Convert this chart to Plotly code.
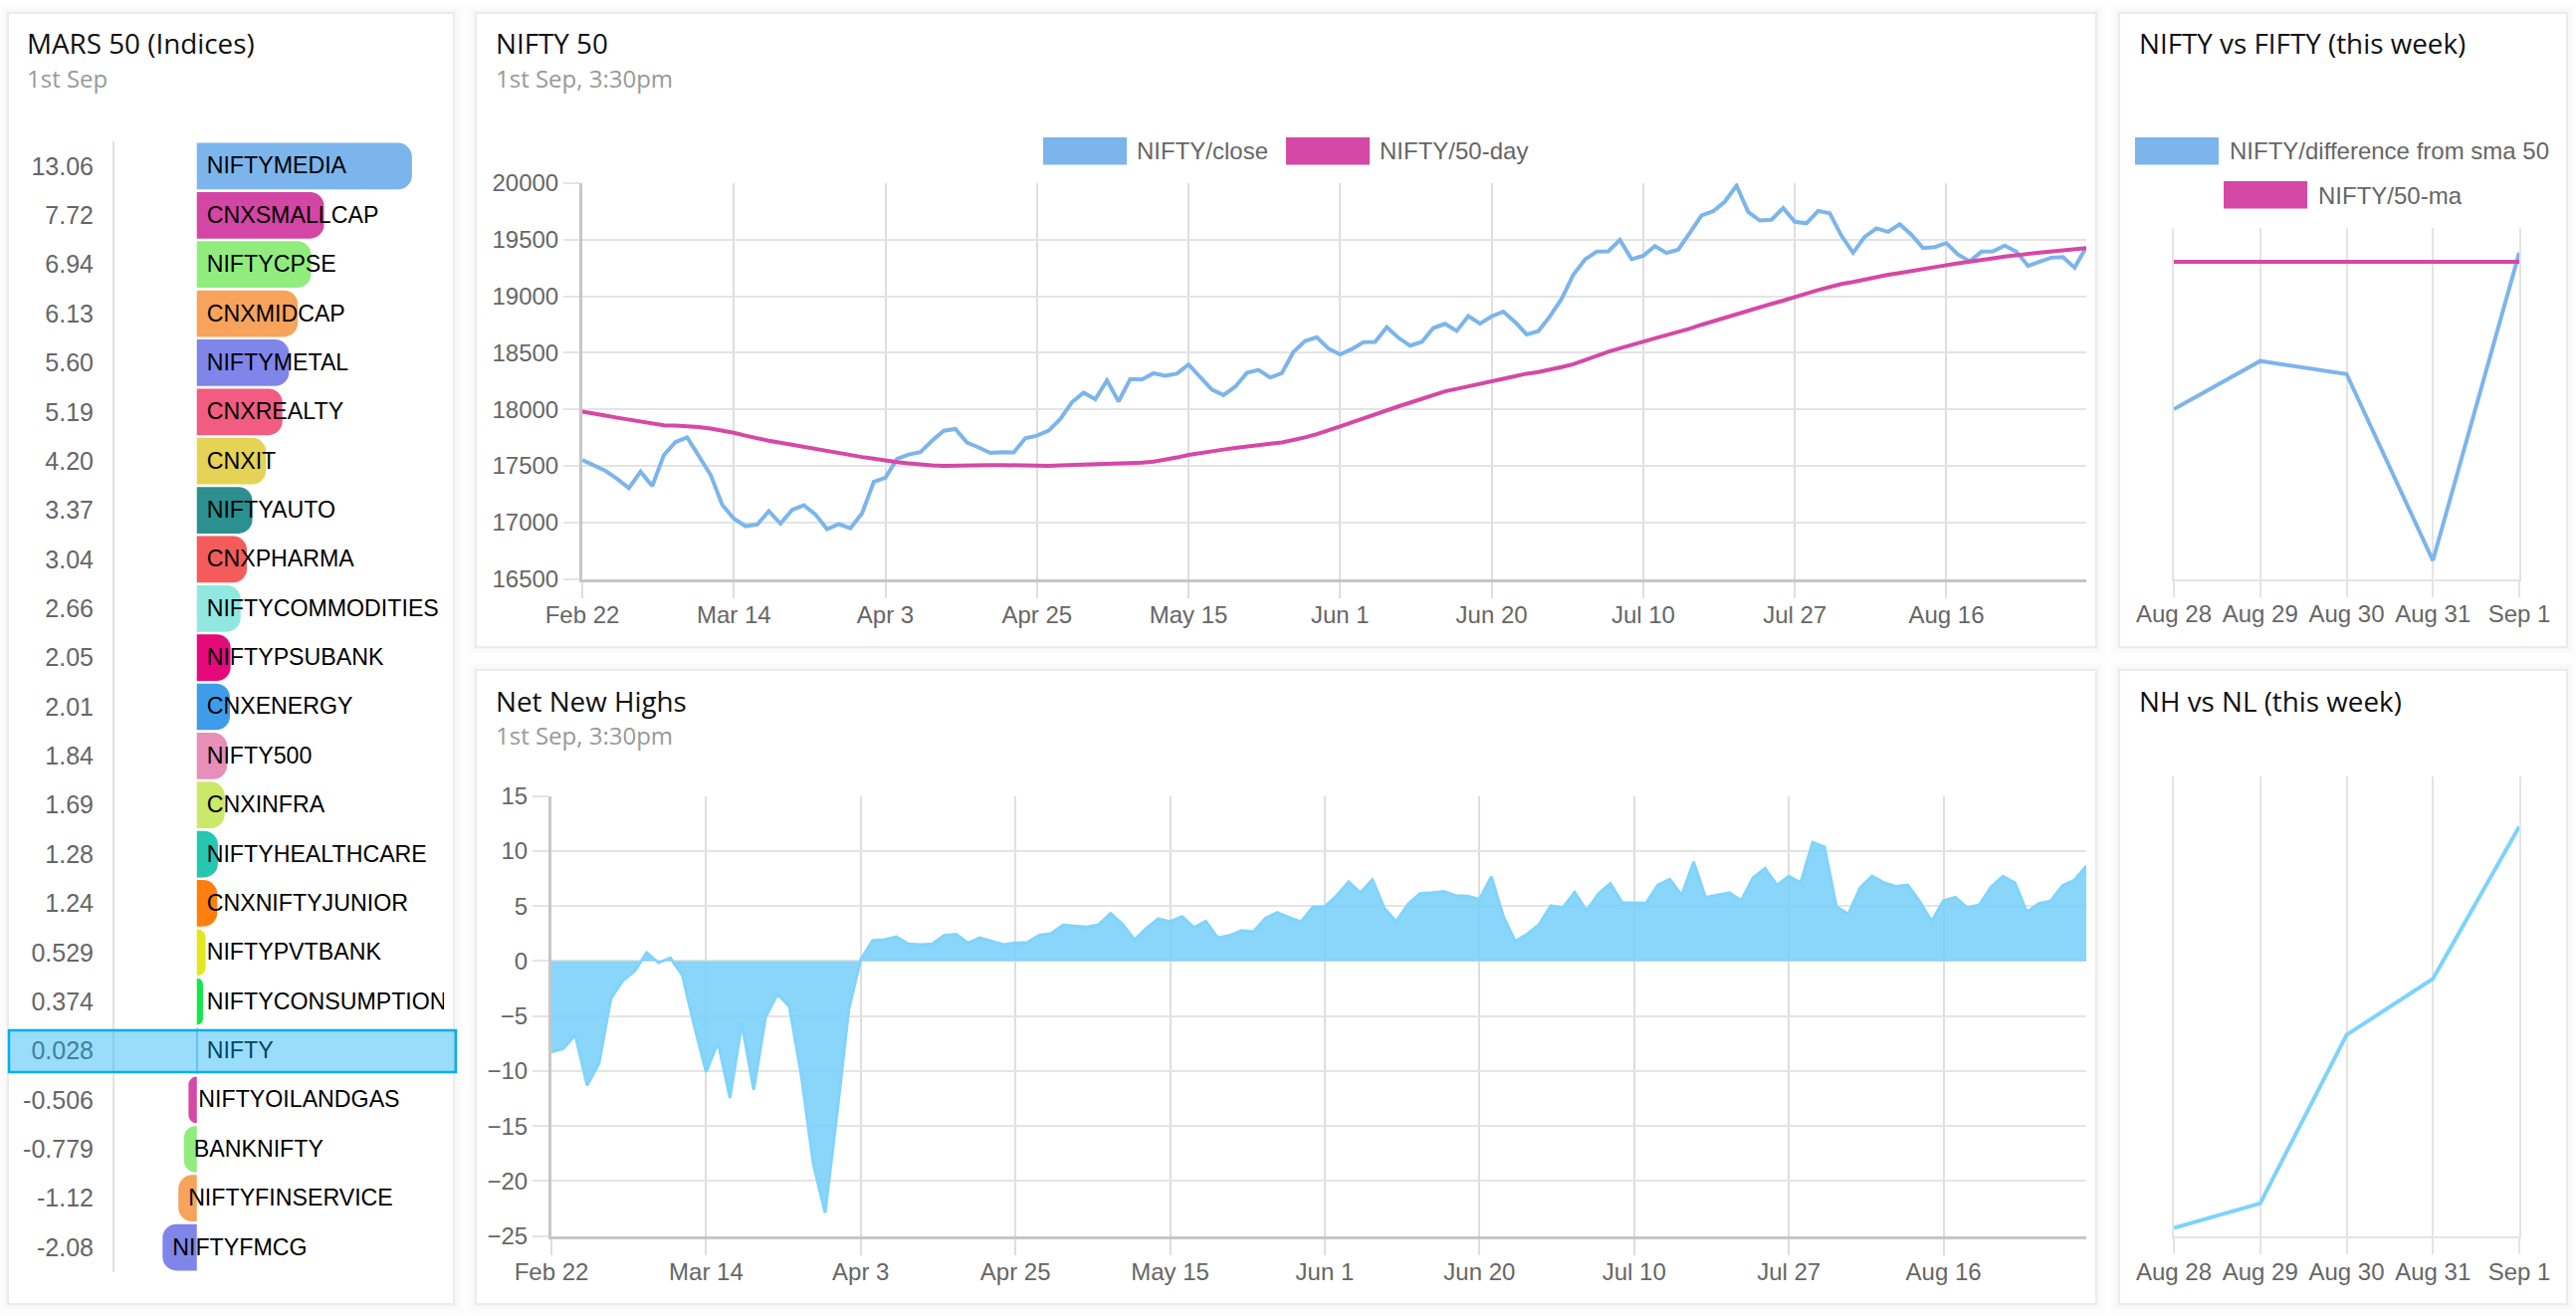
import plotly.graph_objects as go

W, H = 2588, 1322

# ---------- data ----------
index_names = ["NIFTYMEDIA","CNXSMALLCAP","NIFTYCPSE","CNXMIDCAP","NIFTYMETAL","CNXREALTY","CNXIT","NIFTYAUTO",
               "CNXPHARMA","NIFTYCOMMODITIES","NIFTYPSUBANK","CNXENERGY","NIFTY500","CNXINFRA","NIFTYHEALTHCARE",
               "CNXNIFTYJUNIOR","NIFTYPVTBANK","NIFTYCONSUMPTION","NIFTY","NIFTYOILANDGAS","BANKNIFTY",
               "NIFTYFINSERVICE","NIFTYFMCG"]
index_values = [13.06,7.72,6.94,6.13,5.60,5.19,4.20,3.37,3.04,2.66,2.05,2.01,1.84,1.69,1.28,1.24,0.529,0.374,0.028,
                -0.506,-0.779,-1.12,-2.08]
index_labels = ["13.06","7.72","6.94","6.13","5.60","5.19","4.20","3.37","3.04","2.66","2.05","2.01","1.84","1.69",
                "1.28","1.24","0.529","0.374","0.028","-0.506","-0.779","-1.12","-2.08"]
index_colors = ["#7cb5ec","#d346a3","#90ed7d","#f7a35c","#8085e9","#f15c80","#e4d354","#2b908f","#f45b5b","#91e8e1",
                "#e6097a","#3f9ce8","#e78fb8","#cce868","#26c6b0","#ff7f0e","#e4e620","#14e64a","#a8d4f5",
                "#d648a5","#90ed7d","#f7a35c","#8085e9"]

nifty_close = [17552,17507,17456,17385,17304,17448,17322,17596,17711,17752,17589,17422,17156,17033,16967,16981,17100,
               16989,17111,17152,17070,16941,16985,16948,17081,17359,17396,17563,17600,17622,17722,17811,17826,17707,
               17663,17615,17622,17619,17744,17767,17811,17915,18063,18148,18089,18256,18070,18267,18263,18319,18296,
               18315,18396,18281,18174,18126,18200,18322,18348,18281,18319,18507,18604,18637,18537,18485,18533,18593,
               18596,18726,18633,18563,18596,18719,18756,18693,18825,18757,18823,18864,18773,18663,18691,18823,18977,
               19190,19325,19394,19397,19498,19328,19357,19444,19382,19413,19561,19714,19752,19837,19978,19746,19670,
               19677,19780,19658,19645,19755,19733,19535,19385,19526,19601,19570,19636,19545,19426,19435,19470,19369,
               19309,19394,19397,19448,19394,19269,19306,19341,19347,19253,19435]
nifty_ma50 = [17981,17959,17944,17926,17907,17889,17874,17859,17856,17852,17844,17830,17815,17793,17767,17741,17722,
              17704,17685,17670,17652,17633,17615,17596,17578,17563,17544,17533,17522,17511,17504,17500,17504,17507,
              17507,17507,17507,17504,17500,17504,17500,17504,17507,17512,17515,17519,17521,17524,17528,17538,17552,
              17574,17596,17615,17633,17644,17659,17674,17685,17696,17707,17726,17752,17781,17811,17848,17885,17922,
              17959,17993,18026,18059,18093,18126,18159,18181,18204,18227,18249,18274,18296,18315,18330,18349,18374,
              18399,18437,18471,18509,18540,18572,18603,18628,18656,18682,18713,18748,18779,18814,18848,18879,18905,
              18933,18961,18989,19024,19055,19084,19109,19127,19149,19171,19190,19206,19225,19240,19256,19275,19291,
              19303,19319,19335,19350,19366,19375,19385,19394,19407,19416,19426]
net_new_highs = [-8.27,-7.96,-6.74,-11.3,-9.3,-3.39,-1.79,-0.91,0.76,-0.15,0.27,-1.3,-5.87,-10.1,-7.39,-12.46,-5.68,
                 -11.7,-5.1,-3.0,-4.15,-10.4,-18.4,-22.9,-13.9,-4.34,0.15,1.87,1.94,2.2,1.56,1.49,1.56,2.32,2.44,1.64,
                 2.1,1.83,1.49,1.64,1.68,2.36,2.51,3.28,3.2,3.09,3.31,4.34,3.35,1.94,2.97,3.85,3.58,4.04,3.05,3.62,2.1,
                 2.32,2.78,2.67,3.89,4.42,3.96,3.58,4.91,4.95,5.94,7.2,6.21,7.39,4.8,3.58,5.18,6.13,6.21,6.32,5.94,5.9,
                 5.6,7.66,4.08,1.79,2.44,3.31,5.03,4.84,6.25,4.57,6.13,7.05,5.3,5.26,5.26,6.93,7.43,5.98,9.03,5.79,
                 5.98,6.21,5.49,7.58,8.42,6.9,7.7,7.12,10.78,10.36,4.95,4.27,6.67,7.73,7.12,6.78,6.9,5.41,3.62,5.49,
                 5.79,4.84,5.1,6.74,7.7,7.12,4.46,5.22,5.45,6.86,7.35,8.65]
long_tick_labels = ["Feb 22","Mar 14","Apr 3","Apr 25","May 15","Jun 1","Jun 20","Jul 10","Jul 27","Aug 16"]
long_tick_positions = [0,13,26,39,52,65,78,91,104,117]

week_days = ["Aug 28","Aug 29","Aug 30","Aug 31","Sep 1"]
week_diff_sma = [-83.4,-56,-63.4,-169.5,5.7]
week_ma50 = [0.5,0.5,0.5,0.5,0.5]
week_nh_nl = [5.22,5.43,6.87,7.35,8.65]

# ---------- styling ----------
BLUE, PINK, SKY = "#7cb5ec", "#d648a5", "#7dd3fc"
GRID, VGRID, AXIS, TXT = "#e4e4e4", "#dedede", "#c6c6c6", "#666666"
SANS, OPEN = "Liberation Sans", "Open Sans"
FS = 24
LW = 4

def dx(a, b): return [a / W, b / W]
def dy(top, bot): return [1 - bot / H, 1 - top / H]

fig = go.Figure()

# left panel
fig.add_trace(go.Bar(x=index_values, y=index_names, orientation="h", marker=dict(color=index_colors, cornerradius=14, line_width=0),
                     xaxis="x", yaxis="y", showlegend=False))
fig.add_trace(go.Scatter(x=[min(0, v) + 0.6 for v in index_values], y=index_names, mode="text", text=index_names,
                         textposition="middle right", textfont=dict(family=SANS, size=23.2, color="#000"),
                         cliponaxis=True, xaxis="x", yaxis="y6", showlegend=False))
# NIFTY 50
xs = list(range(len(nifty_close)))
fig.add_trace(go.Scatter(x=xs, y=nifty_close, mode="lines", line=dict(color=BLUE, width=LW), xaxis="x2", yaxis="y2", showlegend=False))
fig.add_trace(go.Scatter(x=xs, y=nifty_ma50, mode="lines", line=dict(color=PINK, width=LW), xaxis="x2", yaxis="y2", showlegend=False))
# NIFTY vs FIFTY
fig.add_trace(go.Scatter(x=week_days, y=week_diff_sma, mode="lines", line=dict(color=BLUE, width=LW), xaxis="x3", yaxis="y3", showlegend=False))
fig.add_trace(go.Scatter(x=week_days, y=week_ma50, mode="lines", line=dict(color=PINK, width=LW), xaxis="x3", yaxis="y3", showlegend=False))
# Net new highs
fig.add_trace(go.Scatter(x=xs, y=net_new_highs, mode="lines", fill="tozeroy", fillcolor="rgba(118,206,249,0.85)",
                         line=dict(color="#80d4fb", width=3), xaxis="x4", yaxis="y4", showlegend=False))
# NH vs NL
fig.add_trace(go.Scatter(x=week_days, y=week_nh_nl, mode="lines", line=dict(color=SKY, width=LW), xaxis="x5", yaxis="y5", showlegend=False))

tick = dict(family=SANS, size=FS, color=TXT)

def long_x(domain, anchor):
    return dict(domain=domain, anchor=anchor, range=[0, len(nifty_close) - 1], tickmode="array",
                tickvals=long_tick_positions, ticktext=long_tick_labels, tickfont=tick, tickangle=0, ticklabelstandoff=-3,
                showgrid=True, gridcolor=VGRID, gridwidth=1.7, ticks="outside", ticklen=16, tickwidth=2, tickcolor=VGRID,
                showline=True, linecolor=AXIS, linewidth=3, zeroline=False)

def long_y(domain, anchor, rng, dtick):
    return dict(domain=domain, anchor=anchor, range=rng, dtick=dtick, tickfont=tick, tickformat="d",
                showgrid=True, gridcolor=GRID, gridwidth=2, ticks="outside", ticklen=16, tickwidth=2, tickcolor=GRID,
                showline=True, linecolor=AXIS, linewidth=3, zeroline=False)

def week_x(domain, anchor):
    return dict(domain=domain, anchor=anchor, type="category", categoryorder="array", categoryarray=week_days, range=[0, 4],
                tickfont=tick, tickangle=0, dtick=1, ticklabelstandoff=-3, showgrid=True, gridcolor=GRID, gridwidth=2,
                ticks="outside", ticklen=16, tickwidth=2, tickcolor=GRID, showline=True, linecolor=GRID, linewidth=2, zeroline=False)

def week_y(domain, anchor, rng):
    return dict(domain=domain, anchor=anchor, range=rng, showticklabels=False, ticks="", showgrid=False, zeroline=False,
                showline=True, mirror=True, linecolor=GRID, linewidth=2)

layout = dict(
    width=W, height=H, margin=dict(l=0, r=0, t=0, b=0, pad=0, autoexpand=False),
    paper_bgcolor="#ffffff", plot_bgcolor="rgba(0,0,0,0)", bargap=0.053, showlegend=False, hovermode=False,
    xaxis=dict(domain=dx(115, 446), anchor="y", range=[-5, 15], visible=False),
    yaxis=dict(domain=dy(142.3, 1277.7), anchor="x", type="category", categoryorder="array", categoryarray=index_names,
               range=[len(index_names) - 0.5, -0.5], tickmode="array", tickvals=index_names, ticktext=index_labels,
               tickfont=dict(family=SANS, size=25, color=TXT), ticks="", ticklabelstandoff=14,
               showgrid=False, showline=True, linecolor="#e3e3e3", linewidth=2, zeroline=False),
    yaxis6=dict(domain=dy(144, 1279.4), anchor="x", type="category", categoryorder="array", categoryarray=index_names,
                range=[len(index_names) - 0.5, -0.5], visible=False),
    xaxis2=long_x(dx(585, 2096), "y2"),
    yaxis2=long_y(dy(184, 581.6), "x2", [16500, 20000], 500),
    xaxis3=week_x(dx(2184, 2531), "y3"),
    yaxis3=week_y(dy(228.5, 581.6), "x3", [-180, 20]),
    xaxis4=long_x(dx(554, 2096), "y4"),
    yaxis4=long_y(dy(799.7, 1241.6), "x4", [-25, 15], 5),
    xaxis5=week_x(dx(2184, 2531), "y5"),
    yaxis5=week_y(dy(780, 1241.7), "x5", [5.15, 9.08]),
)

shapes, notes = [], []

def px_rect(x0, y0, x1, y1, **kw):
    shapes.append(dict(type="rect", xref="paper", yref="paper", x0=x0 / W, x1=x1 / W, y0=1 - y1 / H, y1=1 - y0 / H, **kw))

def px_text(x, y, text, family, size, color, anchor="left"):
    notes.append(dict(xref="paper", yref="paper", x=x / W, y=1 - y / H, xanchor=anchor, yanchor="middle", text=text,
                      showarrow=False, borderpad=0, font=dict(family=family, size=size, color=color)))

cards = [(8, 13, 456, 1310), (478, 13, 2106, 650), (478, 673, 2106, 1310), (2129, 13, 2579, 650), (2129, 673, 2579, 1310)]
for c in cards:
    for d, a in ((10, 0.008), (6, 0.010), (3, 0.012)):
        px_rect(c[0] - d, c[1] - d, c[2] + d, c[3] + d, fillcolor=f"rgba(0,0,0,{a})", line_width=0, layer="below")
    px_rect(*c, fillcolor="#ffffff", line=dict(color="#ebebeb", width=2), layer="below")

# selected row
px_rect(9, 1035, 458, 1077, fillcolor="rgba(3,169,244,0.4)", line=dict(color="#00aff0", width=2.5), layer="above")

# legends
px_rect(1048, 138, 1132, 165.5, fillcolor=BLUE, line_width=0, layer="below")
px_text(1141, 151, "NIFTY/close", SANS, FS, TXT)
px_rect(1292, 138, 1376, 165.5, fillcolor=PINK, line_width=0, layer="below")
px_text(1384.6, 151, "NIFTY/50-day", SANS, FS, TXT)
px_rect(2145, 138, 2229, 165.5, fillcolor=BLUE, line_width=0, layer="below")
px_text(2238.5, 151, "NIFTY/difference from sma 50", SANS, FS, TXT)
px_rect(2234, 182, 2318, 209.5, fillcolor=PINK, line_width=0, layer="below")
px_text(2327.5, 196, "NIFTY/50-ma", SANS, FS, TXT)

# card titles
T, S = "#111111", "#999999"
px_text(25.5, 43.5, "MARS 50 (Indices)", OPEN, 27.8, T)
px_text(25.5, 78.5, "1st Sep", OPEN, 24, S)
px_text(496.5, 43.5, "NIFTY 50", OPEN, 27.8, T)
px_text(496.5, 78.5, "1st Sep, 3:30pm", OPEN, 24, S)
px_text(496.5, 703.5, "Net New Highs", OPEN, 27.8, T)
px_text(496.5, 738.5, "1st Sep, 3:30pm", OPEN, 24, S)
px_text(2147.5, 43.5, "NIFTY vs FIFTY (this week)", OPEN, 27.8, T)
px_text(2147.5, 703.5, "NH vs NL (this week)", OPEN, 27.8, T)

layout["shapes"] = shapes
layout["annotations"] = notes
fig.update_layout(**layout)

fig.write_html("out.html", config=dict(displayModeBar=False),
               post_script="document.body.style.margin='0';document.documentElement.style.overflow='hidden';")
